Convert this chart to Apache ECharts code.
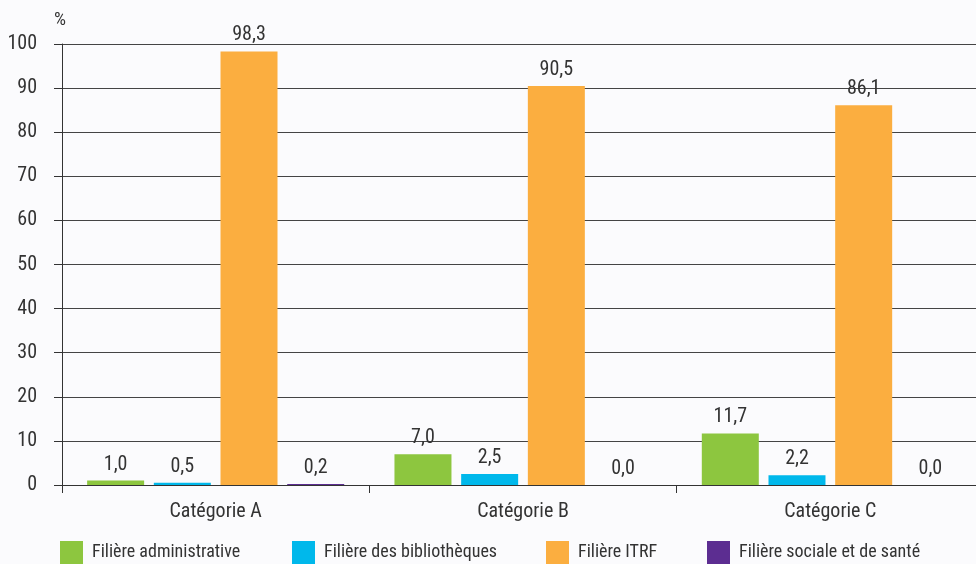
<!DOCTYPE html>
<html><head><meta charset="utf-8">
<script src="https://cdn.jsdelivr.net/npm/echarts@6/dist/echarts.min.js"></script>
<style>html,body{margin:0;padding:0;background:#fbfbfd;overflow:hidden}#c{width:984px;height:564px}</style>
</head><body><div id="c"></div>
<script>
const categories = ['Catégorie A', 'Catégorie B', 'Catégorie C'];
const seriesNames = ['Filière administrative', 'Filière des bibliothèques', 'Filière ITRF', 'Filière sociale et de santé'];
const administrative = [1.0, 7.0, 11.7];
const bibliotheques = [0.5, 2.5, 2.2];
const itrf = [98.3, 90.5, 86.1];
const sociale = [0.2, 0.0, 0.0];
const colors = ['#8dc63f', '#00b8eb', '#fbae40', '#5c2d91'];
const allValues = [administrative, bibliotheques, itrf, sociale];

const FONT = '"Roboto Condensed", "Liberation Sans Narrow", Roboto, sans-serif';
const chart = echarts.init(document.getElementById('c'));
const legendLefts = [60, 292, 546, 707];
chart.setOption({
  backgroundColor: '#fbfbfd',
  textStyle: { fontFamily: FONT },
  animation: false,
  grid: { left: 62, top: 44, width: 922, bottom: 79, containLabel: false },
  legend: seriesNames.map((n, i) => ({
    data: [n], left: legendLefts[i], top: 541, itemWidth: 23, itemHeight: 23, itemGap: 9,
    icon: 'rect', padding: 0, textStyle: { fontFamily: FONT, fontSize: 18, color: '#333', padding: [0, 0, 0, 4] }
  })),
  xAxis: {
    type: 'category', data: categories,
    axisLine: { lineStyle: { color: '#333', width: 1 } },
    axisTick: { show: true, length: 8, lineStyle: { color: '#333' } },
    axisLabel: { fontFamily: FONT, fontSize: 20, color: '#333', margin: 17 }
  },
  yAxis: {
    type: 'value', min: 0, max: 100, interval: 10,
    name: '%', nameLocation: 'end', nameGap: 14,
    nameTextStyle: { fontFamily: FONT, fontSize: 19, color: '#333', align: 'right', padding: [0, -4, 0, 0] },
    axisLine: { show: true, lineStyle: { color: '#333', width: 1 } },
    axisTick: { show: true, length: 8, lineStyle: { color: '#333' } },
    axisLabel: { fontFamily: FONT, fontSize: 20, color: '#333', margin: 25 },
    splitLine: { show: true, lineStyle: { color: '#444', width: 1 } }
  },
  series: seriesNames.map((n, i) => ({
    name: n, type: 'bar', data: allValues[i], barWidth: 57, barGap: '17%',
    itemStyle: { color: colors[i] },
    label: {
      show: true, position: 'top', distance: 6,
      fontFamily: FONT, fontSize: 20, color: '#333',
      formatter: p => p.value.toFixed(1).replace('.', ',')
    }
  }))
});
</script></body></html>
